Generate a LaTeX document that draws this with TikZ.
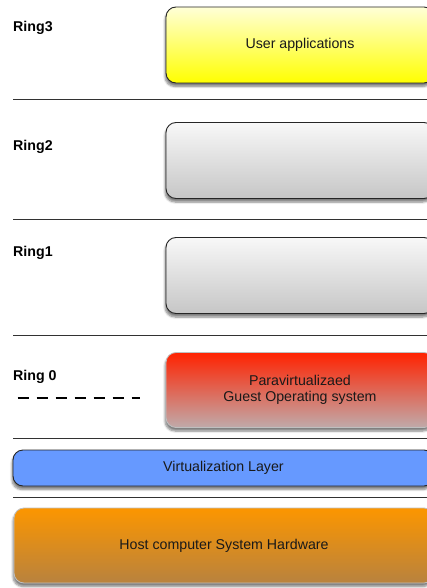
\documentclass[tikz,border=0pt]{standalone}
\usepackage{fontspec}
\setmainfont{Liberation Sans}
\usetikzlibrary{shadows.blur}

\definecolor{sepline}{RGB}{50,50,50}
\definecolor{yelTop}{RGB}{255,255,215}
\definecolor{yelBot}{RGB}{255,255,0}
\definecolor{grayTop}{RGB}{248,248,248}
\definecolor{grayBot}{RGB}{198,198,198}
\definecolor{redTop}{RGB}{255,34,0}
\definecolor{redBot}{RGB}{192,170,170}
\definecolor{layerBlue}{RGB}{102,153,255}
\definecolor{orgTop}{RGB}{252,150,0}
\definecolor{orgBot}{RGB}{184,130,62}

\tikzset{
  txt/.style={font=\fontsize{14.2}{16.5}\selectfont, align=center, text=black!90},
  ringlabel/.style={font=\fontsize{14.2}{16.5}\selectfont\bfseries, anchor=base west, inner sep=0pt},
  layerbox/.style={txt, rectangle, rounded corners=10pt, inner sep=0pt,
    blur shadow={shadow xshift=-1pt, shadow yshift=-3.5pt, shadow blur steps=6, shadow opacity=50}},
  darkedge/.style={draw=black!85, line width=0.9pt},
  lightedge/.style={draw=black!25, line width=0.8pt},
  ringbox/.style={layerbox, minimum width=268pt, minimum height=76pt},
  sep/.style={draw=sepline, line width=1pt},
}

\begin{document}
\begin{tikzpicture}[x=1pt, y=-1pt]
  \useasboundingbox (0,0) rectangle (427,588);
  \clip (0,0) rectangle (427,588);

  % ring boxes
  \node[ringbox, darkedge, top color=yelTop, bottom color=yelBot] (apps) at (300,45) {User applications};
  \node[ringbox, darkedge, top color=grayTop, bottom color=grayBot] (r2box) at (300,160.5) {};
  \node[ringbox, darkedge, top color=grayTop, bottom color=grayBot] (r1box) at (300,275.5) {};
  \node[ringbox, lightedge, top color=redTop, bottom color=redBot, minimum height=75pt] (guest) at (300,390) {Paravirtualizaed\\Guest Operating system};

  % lower layers
  \node[layerbox, darkedge, fill=layerBlue, minimum width=421pt, minimum height=36pt] (virt) at (223.5,468) {Virtualization Layer};
  \node[layerbox, lightedge, top color=orgTop, bottom color=orgBot, minimum width=420pt, minimum height=75pt] (host) at (224,545.5) {Host computer System Hardware};

  % ring labels
  \node[ringlabel] (r3) at (13,32) {Ring3};
  \node[ringlabel] (r2) at (13,151) {Ring2};
  \node[ringlabel] (r1) at (13,256) {Ring1};
  \node[ringlabel] (r0) at (13,380) {Ring 0};

  % separators between rings
  \coordinate (s1a) at (13,100);  \coordinate (s1b) at (427,100);
  \coordinate (s2a) at (13,219);  \coordinate (s2b) at (427,219);
  \coordinate (s3a) at (13,335);  \coordinate (s3b) at (427,335);
  \coordinate (s4a) at (13,438);  \coordinate (s4b) at (427,438);
  \coordinate (s5a) at (13,497);  \coordinate (s5b) at (427,497);
  \draw[sep] (s1a) -- (s1b);
  \draw[sep] (s2a) -- (s2b);
  \draw[sep] (s3a) -- (s3b);
  \draw[sep] (s4a) -- (s4b);
  \draw[sep] (s5a) -- (s5b);

  % ring 0 dashed marker
  \coordinate (d1) at (17.5,398);
  \coordinate (d2) at (140,398);
  \draw[black, line width=1.8pt, dash pattern=on 11pt off 8pt] (d1) -- (d2);
\end{tikzpicture}
\end{document}
